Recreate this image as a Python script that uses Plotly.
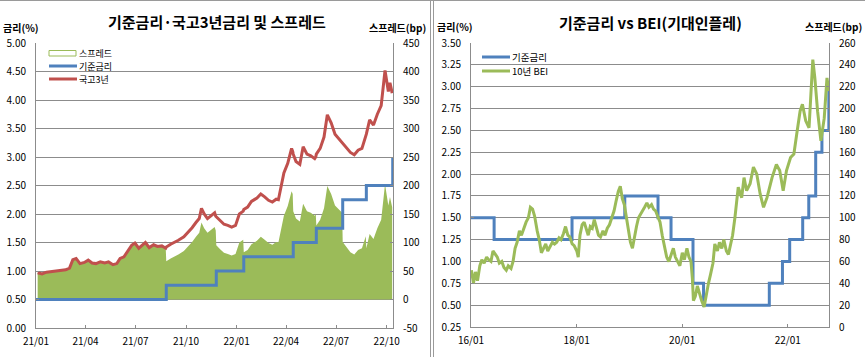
import plotly.graph_objects as go
import pandas as pd

W, H = 865, 357

# ---------------- data: left chart ----------------
gov3y_dates = [
    "2021-01-04", "2021-01-12", "2021-01-20", "2021-01-28", "2021-02-05", "2021-02-15", "2021-02-24",
    "2021-03-03", "2021-03-09", "2021-03-15", "2021-03-22", "2021-03-30", "2021-04-06", "2021-04-13",
    "2021-04-20", "2021-04-28", "2021-05-06", "2021-05-13", "2021-05-21", "2021-05-28", "2021-06-03",
    "2021-06-10", "2021-06-17", "2021-06-24", "2021-06-30", "2021-07-07", "2021-07-14", "2021-07-19",
    "2021-07-26", "2021-08-03", "2021-08-10", "2021-08-18", "2021-08-25", "2021-08-26", "2021-09-03",
    "2021-09-10", "2021-09-17", "2021-09-27", "2021-10-05", "2021-10-12", "2021-10-19", "2021-10-25",
    "2021-10-29", "2021-11-03", "2021-11-09", "2021-11-16", "2021-11-22", "2021-11-24", "2021-11-25",
    "2021-12-02", "2021-12-09", "2021-12-16", "2021-12-23", "2021-12-30", "2022-01-06", "2022-01-13",
    "2022-01-14", "2022-01-21", "2022-01-28", "2022-02-07", "2022-02-14", "2022-02-21", "2022-02-28",
    "2022-03-07", "2022-03-14", "2022-03-18", "2022-03-22", "2022-03-28", "2022-04-04", "2022-04-11",
    "2022-04-13", "2022-04-14", "2022-04-19", "2022-04-26", "2022-05-02", "2022-05-09", "2022-05-16",
    "2022-05-23", "2022-05-25", "2022-05-26", "2022-06-02", "2022-06-09", "2022-06-15", "2022-06-22",
    "2022-06-29", "2022-07-06", "2022-07-12", "2022-07-13", "2022-07-20", "2022-07-27", "2022-08-03",
    "2022-08-10", "2022-08-17", "2022-08-24", "2022-08-25", "2022-08-31", "2022-09-07", "2022-09-14",
    "2022-09-21", "2022-09-28", "2022-10-04", "2022-10-07", "2022-10-11",
]
gov3y_values = [
    0.97, 0.95, 0.98, 0.99, 0.99, 1.01, 1.02,
    1.05, 1.20, 1.22, 1.13, 1.15, 1.19, 1.14,
    1.13, 1.16, 1.14, 1.16, 1.11, 1.13, 1.22,
    1.25, 1.35, 1.45, 1.49, 1.40, 1.46, 1.50,
    1.41, 1.46, 1.43, 1.44, 1.40, 1.42, 1.47,
    1.50, 1.54, 1.60, 1.68, 1.76, 1.85, 1.92,
    2.10, 2.00, 1.92, 1.98, 2.02, 1.96, 1.95,
    1.88, 1.82, 1.80, 1.77, 1.80, 2.00, 2.05,
    2.08, 2.12, 2.22, 2.28, 2.35, 2.30, 2.24,
    2.21, 2.26, 2.25, 2.45, 2.72, 2.89, 3.15,
    3.10, 3.05, 2.92, 2.87, 3.18, 3.05, 3.02,
    2.97, 3.00, 3.05, 3.15, 3.35, 3.74, 3.60,
    3.40, 3.32, 3.27, 3.26, 3.18, 3.08, 3.04,
    3.12, 3.15, 3.36, 3.40, 3.65, 3.56, 3.75,
    3.90, 4.52, 4.15, 4.30, 4.12,
]
base_left_dates = ["2021-01-01", "2021-08-26", "2021-11-25", "2022-01-14", "2022-04-14",
                   "2022-05-26", "2022-07-13", "2022-08-25", "2022-10-12"]
base_left_values = [0.50, 0.75, 1.00, 1.25, 1.50, 1.75, 2.25, 2.50, 3.00]

# ---------------- data: right chart ----------------
base_right_dates = ["2016-01-01", "2016-06-09", "2017-11-30", "2018-11-30", "2019-07-18",
                    "2019-10-16", "2020-03-16", "2020-05-28", "2021-08-26", "2021-11-25",
                    "2022-01-14", "2022-04-14", "2022-05-26", "2022-07-13", "2022-08-25", "2022-10-12"]
base_right_values = [1.50, 1.25, 1.50, 1.75, 1.50, 1.25, 0.75, 0.50, 0.75, 1.00,
                     1.25, 1.50, 1.75, 2.25, 2.50, 3.00]

bei_dates = [
    "2016-01-04", "2016-01-18", "2016-02-01", "2016-02-15", "2016-03-02", "2016-03-16", "2016-04-01",
    "2016-04-18", "2016-05-02", "2016-05-18", "2016-06-01", "2016-06-15", "2016-07-01", "2016-07-15",
    "2016-08-01", "2016-08-16", "2016-09-01", "2016-09-15", "2016-10-04", "2016-10-18", "2016-11-01",
    "2016-11-15", "2016-12-01", "2016-12-15", "2017-01-02", "2017-01-16", "2017-02-01", "2017-02-15",
    "2017-03-02", "2017-03-16", "2017-04-03", "2017-04-17", "2017-05-02", "2017-05-16", "2017-06-01",
    "2017-06-15", "2017-07-03", "2017-07-17", "2017-08-01", "2017-08-16", "2017-09-01", "2017-09-15",
    "2017-10-02", "2017-10-16", "2017-11-01", "2017-11-15", "2017-12-01", "2017-12-15", "2018-01-02",
    "2018-01-12", "2018-01-24", "2018-02-08", "2018-02-22", "2018-03-08", "2018-03-22", "2018-04-05",
    "2018-04-19", "2018-05-03", "2018-05-17", "2018-06-01", "2018-06-15", "2018-07-02", "2018-07-16",
    "2018-08-01", "2018-08-16", "2018-09-03", "2018-09-17", "2018-10-02", "2018-10-16", "2018-10-30",
    "2018-11-13", "2018-11-27", "2018-12-11", "2018-12-24", "2019-01-08", "2019-01-22", "2019-02-05",
    "2019-02-19", "2019-03-05", "2019-03-19", "2019-04-02", "2019-04-16", "2019-05-02", "2019-05-16",
    "2019-06-03", "2019-06-17", "2019-07-01", "2019-07-15", "2019-08-01", "2019-08-16", "2019-09-02",
    "2019-09-16", "2019-10-01", "2019-10-15", "2019-11-01", "2019-11-15", "2019-12-02", "2019-12-16",
    "2020-01-02", "2020-01-16", "2020-02-03", "2020-02-17", "2020-03-02", "2020-03-12", "2020-03-19",
    "2020-04-01", "2020-04-15", "2020-05-01", "2020-05-15", "2020-06-01", "2020-06-15", "2020-07-01",
    "2020-07-15", "2020-08-01", "2020-08-14", "2020-09-01", "2020-09-15", "2020-10-01", "2020-10-15",
    "2020-11-02", "2020-11-16", "2020-12-01", "2020-12-15", "2020-12-31", "2021-01-23", "2021-02-16",
    "2021-03-04", "2021-03-22", "2021-04-15", "2021-05-08", "2021-05-31", "2021-06-24", "2021-07-17",
    "2021-08-10", "2021-09-14", "2021-10-14", "2021-11-06", "2021-11-30", "2021-12-23", "2022-01-20",
    "2022-02-12", "2022-03-03", "2022-03-27", "2022-04-12", "2022-05-05", "2022-05-28", "2022-06-09",
    "2022-06-23", "2022-07-07", "2022-07-26", "2022-08-18", "2022-09-10", "2022-09-29", "2022-10-12",
]
bei_values = [
    0.90, 0.75, 0.88, 0.78, 0.95, 1.02, 0.98,
    1.05, 1.02, 1.00, 1.12, 1.08, 1.05, 0.98,
    1.00, 0.93, 0.90, 0.95, 0.92, 1.00, 1.15,
    1.22, 1.35, 1.30, 1.40, 1.45, 1.50, 1.62,
    1.60, 1.52, 1.35, 1.25, 1.10, 1.15, 1.20,
    1.12, 1.18, 1.22, 1.20, 1.22, 1.27, 1.25,
    1.32, 1.40, 1.30, 1.28, 1.20, 1.18, 1.12,
    1.05, 1.30, 1.42, 1.45, 1.38, 1.30, 1.40,
    1.38, 1.48, 1.40, 1.30, 1.28, 1.35, 1.30,
    1.38, 1.42, 1.52, 1.58, 1.70, 1.80, 1.86,
    1.72, 1.65, 1.50, 1.40, 1.22, 1.15, 1.30,
    1.40, 1.50, 1.55, 1.58, 1.62, 1.67, 1.62,
    1.65, 1.60, 1.58, 1.52, 1.45, 1.30, 1.15,
    1.05, 1.00, 1.08, 1.15, 1.05, 1.00, 0.95,
    1.10, 1.02, 1.15, 1.05, 1.00, 0.80, 0.55,
    0.60, 0.72, 0.62, 0.55, 0.48, 0.62, 0.75,
    0.85, 0.98, 1.20, 1.12, 1.22, 1.15, 1.25,
    1.12, 1.08, 1.20, 1.30, 1.50, 1.85, 1.73,
    1.96, 1.81, 1.89, 2.08, 2.00, 1.77, 1.62,
    1.73, 1.96, 2.11, 2.04, 1.81, 2.04, 2.19,
    2.23, 2.45, 2.72, 2.80, 2.61, 2.53, 2.91,
    3.31, 3.10, 2.72, 2.38, 2.64, 3.10, 2.95,
]

left_yticks = [0.0, 0.5, 1.0, 1.5, 2.0, 2.5, 3.0, 3.5, 4.0, 4.5, 5.0]
spread_yticks = [-50, 0, 50, 100, 150, 200, 250, 300, 350, 400, 450]
left_legend = ["스프레드", "기준금리", "국고3년"]
right_legend = ["기준금리", "10년 BEI"]

# spread (bp) = 3y treasury minus base rate in force on that day
g = pd.DataFrame({"d": pd.to_datetime(gov3y_dates), "r": gov3y_values})
b = pd.DataFrame({"d": pd.to_datetime(base_left_dates), "b": base_left_values})
m = pd.merge_asof(g, b, on="d")
spread_bp = ((m["r"] - m["b"]) * 100).round(1).tolist()

BLUE = "#4F81BD"
RED = "#C0504D"
GREEN = "#9BBB59"
GRID = "#8C8C8C"
FONT = "Noto Sans CJK KR"

fig = go.Figure()

# left chart: spread area on y (right side), rates on y2 (left side, overlaying)
fig.add_trace(go.Scatter(x=g["d"], y=spread_bp, name=left_legend[0], xaxis="x", yaxis="y",
                         mode="lines", line=dict(width=0, color=GREEN), fill="tozeroy",
                         fillcolor=GREEN, showlegend=False, hoverinfo="skip"))
fig.add_trace(go.Scatter(x=base_left_dates, y=base_left_values, name=left_legend[1], xaxis="x", yaxis="y2",
                         mode="lines", line=dict(color=BLUE, width=3, shape="hv"), showlegend=False))
fig.add_trace(go.Scatter(x=gov3y_dates, y=gov3y_values, name=left_legend[2], xaxis="x", yaxis="y2",
                         mode="lines", line=dict(color=RED, width=3), showlegend=False))

# right chart
fig.add_trace(go.Scatter(x=base_right_dates, y=base_right_values, name=right_legend[0], xaxis="x2",
                         yaxis="y3", mode="lines", line=dict(color=BLUE, width=3, shape="hv"),
                         showlegend=False))
fig.add_trace(go.Scatter(x=bei_dates, y=bei_values, name=right_legend[1], xaxis="x2", yaxis="y3",
                         mode="lines", line=dict(color=GREEN, width=3), showlegend=False))
fig.add_trace(go.Scatter(x=[], y=[], xaxis="x2", yaxis="y4", showlegend=False, hoverinfo="skip"))


def px(x):
    return x / W


def py(y):
    return 1 - y / H


tickfont = dict(family=FONT, size=10, color="#000000")
Ldom = [px(36), px(393)]
Rdom = [px(471), px(829)]
LYdom = [py(328), py(43)]
RYdom = [py(327), py(43)]

axis_common = dict(showline=True, linecolor=GRID, linewidth=1, ticks="inside", ticklen=3,
                   tickcolor=GRID, tickfont=tickfont, zeroline=False, fixedrange=True,
                   automargin=False)

fig.update_layout(
    template="none",
    width=W, height=H, autosize=False,
    margin=dict(l=0, r=0, t=0, b=0, pad=0),
    paper_bgcolor="white", plot_bgcolor="white",
    font=dict(family=FONT, color="#000000"),
    xaxis=dict(domain=Ldom, anchor="y2", type="date",
               range=["2021-01-01", "2022-10-12 12:00"], tick0="2021-01-01", dtick="M3",
               tickformat="%y/%m", showgrid=False, ticklabelstandoff=4, **axis_common),
    yaxis=dict(domain=LYdom, anchor="x", side="right", range=[-50, 450],
               tickvals=spread_yticks, ticktext=[str(v) for v in spread_yticks],
               showgrid=True, gridcolor=GRID, gridwidth=1, ticklabelstandoff=7, mirror=False,
               **axis_common),
    yaxis2=dict(domain=LYdom, anchor="x", overlaying="y", side="left", range=[0, 5],
                tickvals=left_yticks, ticktext=[f"{v:.2f}" for v in left_yticks],
                showgrid=False, ticklabelstandoff=7, **axis_common),
    xaxis2=dict(domain=Rdom, anchor="y3", type="date",
                range=["2016-01-01", "2022-10-13"], tick0="2016-01-01", dtick="M24",
                tickformat="%y/%m", showgrid=False, ticklabelstandoff=4, **axis_common),
    yaxis3=dict(domain=RYdom, anchor="x2", side="left", range=[0.25, 3.5], dtick=0.25,
                tick0=0.25, tickformat=".2f", showgrid=True, gridcolor=GRID, gridwidth=1,
                ticklabelstandoff=7, **axis_common),
    yaxis4=dict(domain=RYdom, anchor="x2", overlaying="y3", side="right", range=[0, 260],
                dtick=20, tick0=0, showgrid=False, ticklabelstandoff=7, **axis_common),
    showlegend=False,
)

shapes = []
# chart frames
shapes.append(dict(type="line", xref="paper", yref="paper", x0=0, x1=1, y0=py(0.5), y1=py(0.5),
                   line=dict(color="#9A9A9A", width=1)))
for xx in (430.5, 433.5):
    shapes.append(dict(type="line", xref="paper", yref="paper", x0=px(xx), x1=px(xx), y0=0, y1=py(0.5),
                       line=dict(color="#9A9A9A", width=1)))

# custom legends (symbols)
shapes.append(dict(type="rect", xref="paper", yref="paper", x0=px(49), x1=px(76), y0=py(56), y1=py(50.5),
                   line=dict(color=GREEN, width=1), fillcolor="white"))
shapes.append(dict(type="line", xref="paper", yref="paper", x0=px(49), x1=px(77), y0=py(66), y1=py(66),
                   line=dict(color=BLUE, width=3)))
shapes.append(dict(type="line", xref="paper", yref="paper", x0=px(49), x1=px(77), y0=py(79), y1=py(79),
                   line=dict(color=RED, width=3)))
shapes.append(dict(type="line", xref="paper", yref="paper", x0=px(482), x1=px(510), y0=py(57), y1=py(57),
                   line=dict(color=BLUE, width=3)))
shapes.append(dict(type="line", xref="paper", yref="paper", x0=px(482), x1=px(510), y0=py(71), y1=py(71),
                   line=dict(color=GREEN, width=3)))

annotations = []


def txt(text, x, y, xanchor="left", size=10.5, bold=False, align="left"):
    annotations.append(dict(text=f"<b>{text}</b>" if bold else text, x=px(x), y=py(y),
                            xref="paper", yref="paper", xanchor=xanchor, yanchor="middle",
                            showarrow=False, borderpad=0, align=align,
                            font=dict(family=FONT, size=size, color="#000000")))


txt("기준금리·국고3년금리 및 스프레드", 217, 21, "center", 15, True, "center")
txt("기준금리 vs BEI(기대인플레)", 650, 22, "center", 15, True, "center")
txt("금리(%)", 2, 28, "left", 10, True)
txt("스프레드(bp)", 427, 28, "right", 10, True, "right")
txt("금리(%)", 436, 27, "left", 10, True)
txt("스프레드(bp)", 863, 27, "right", 10, True, "right")
for label, yy in zip(left_legend, (53, 66, 79)):
    txt(label, 77.5, yy, "left", 9)
for label, yy in zip(right_legend, (57, 71)):
    txt(label, 510.5, yy, "left", 9.5)

fig.update_layout(shapes=shapes, annotations=annotations)
fig.write_html(
    "out.html",
    config={"displayModeBar": False, "staticPlot": True},
    post_script="document.body.style.margin='0';document.body.style.padding='0';"
                "document.documentElement.style.overflow='hidden';",
)
